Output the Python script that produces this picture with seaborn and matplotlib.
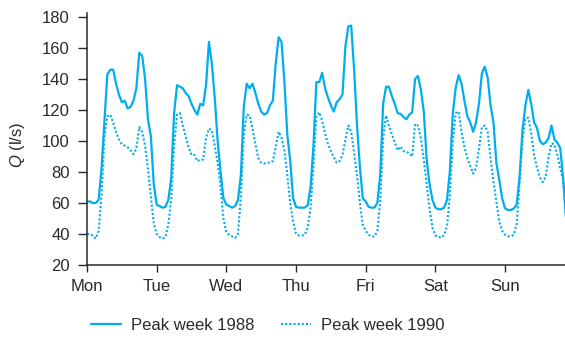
import numpy as np
import pandas as pd
import matplotlib
matplotlib.use("Agg")
import matplotlib.pyplot as plt
import seaborn as sns

# Hourly flow Q (l/s) over a peak week, starting Monday 00:00
day_labels = ["Mon", "Tue", "Wed", "Thu", "Fri", "Sat", "Sun"]
y_ticks = [20, 40, 60, 80, 100, 120, 140, 160, 180]

q1988_mon = [61, 61, 60, 60, 62, 82, 113, 143, 146, 146, 137, 130, 125, 126, 121, 122, 126, 134, 157, 155, 140, 114, 103, 72]
q1988_tue = [59, 58, 57, 57.5, 62, 76, 118, 136, 135, 134, 131, 129, 124, 120, 117, 124, 123, 136, 164, 150, 128, 100, 80, 63]
q1988_wed = [59, 58, 57, 58, 62, 78, 122, 137, 134, 137, 131, 124, 119, 117, 118, 123, 126, 150, 167, 164, 138, 104, 87, 63]
q1988_thu = [57.5, 57, 57, 57, 58.5, 70, 97, 138, 138, 144, 134, 128, 123, 119, 125, 127, 130, 161, 174, 174.5, 146, 110, 83, 63]
q1988_fri = [61, 57.5, 57, 57, 60, 78, 124, 135, 135, 129, 124, 118, 117.5, 115.5, 114, 117, 118.5, 140, 142, 133, 119, 88, 72, 62]
q1988_sat = [57, 56, 56, 57, 62, 81, 118, 134.5, 142.5, 137, 126, 116, 112, 106, 112, 124, 143.5, 148, 141, 123, 112, 86, 75, 63]
q1988_sun = [56.5, 55.5, 55.5, 56.5, 59, 77, 107, 123, 133, 124, 112, 108.5, 100, 98, 99, 102, 110, 101, 99, 95.5, 76, 50]

q1990_mon = [40, 40, 39, 37, 42, 65, 103, 116, 117, 112, 106, 101, 98, 97, 96, 94, 91.5, 95, 109, 106, 97, 82, 64, 47]
q1990_tue = [40, 38, 37, 38, 46, 62, 97, 117, 118, 110, 103, 96, 91, 91, 87, 88, 88, 102, 108, 107, 97, 86, 70, 50]
q1990_wed = [41, 39.5, 38.5, 37.5, 40, 64, 104, 117, 116.5, 108, 98, 89, 86, 85.5, 86, 86, 87, 96, 106, 102, 94, 78, 60, 48]
q1990_thu = [40, 39, 39, 39.5, 44, 57, 84, 116, 118.5, 113, 105, 98, 93.5, 89.5, 86, 87, 91, 101, 110, 106, 92, 78, 60, 46]
q1990_fri = [42, 39.5, 38.5, 38.3, 42, 61, 102, 116.5, 110, 104.5, 99, 94, 96.5, 93.5, 93, 92, 90, 111, 110, 101.5, 88, 72, 56, 44]
q1990_sat = [39, 38.3, 37.5, 39.4, 45, 65, 100, 118, 119, 106, 96, 89, 84, 79, 82.6, 95, 109, 110, 106, 89, 74, 61, 48, 42]
q1990_sun = [39.5, 38.5, 38.5, 39.5, 46.5, 73, 101, 114.5, 115, 105, 91, 82.6, 76.5, 73.5, 77, 90, 98.5, 98, 91, 82, 75, 50]

q1988 = q1988_mon + q1988_tue + q1988_wed + q1988_thu + q1988_fri + q1988_sat + q1988_sun
q1990 = q1990_mon + q1990_tue + q1990_wed + q1990_thu + q1990_fri + q1990_sat + q1990_sun

hours = np.arange(len(q1988))
flows = pd.DataFrame({"day": hours / 24.0, "1988": q1988, "1990": q1990})

blue = "#00aeef"
ink = "#2a2a2a"

sns.set_theme(style="ticks")
plt.rcParams.update({
    "font.family": ["Liberation Sans", "DejaVu Sans"],
    "mathtext.fontset": "custom",
    "mathtext.it": "Liberation Sans:italic",
    "mathtext.rm": "Liberation Sans",
    "text.color": ink,
    "axes.labelcolor": ink,
    "axes.edgecolor": ink,
    "xtick.color": ink,
    "ytick.color": ink,
})

fig = plt.figure(figsize=(5.65, 3.38), dpi=100)
ax = fig.add_axes([87 / 565, 1 - 265 / 338, 1 - 87 / 565, (265 - 13) / 338])

sns.lineplot(data=flows, x="day", y="1988", ax=ax, color=blue, lw=1.6,
             label="Peak week 1988", legend=False)
sns.lineplot(data=flows, x="day", y="1990", ax=ax, color=blue, lw=1.5,
             linestyle=(0, (1, 1)), label="Peak week 1990", legend=False)

ax.set_xlim(0, 6.86)
ax.set_ylim(20, 182.6)
ax.set_xticks(range(len(day_labels)))
ax.set_xticklabels(day_labels)
ax.set_yticks(y_ticks)
ax.set_xlabel("")
ax.set_ylabel(r"$Q$ (l/s)", fontsize=12)
ax.yaxis.set_label_coords(-0.126, 0.475)

sns.despine(ax=ax)
for side in ("left", "bottom"):
    ax.spines[side].set_linewidth(1.1)
ax.tick_params(axis="y", length=6.5, width=1.0, pad=6, labelsize=12)
ax.tick_params(axis="x", length=5, width=1.0, pad=5, labelsize=12)

handles, labels = ax.get_legend_handles_labels()
fig.legend(handles, labels, loc="center", bbox_to_anchor=(0.4735, 0.036),
           ncol=2, frameon=False, fontsize=12, handlelength=1.8,
           handletextpad=0.6, columnspacing=1.6)

fig.savefig("out.png", dpi=100)
